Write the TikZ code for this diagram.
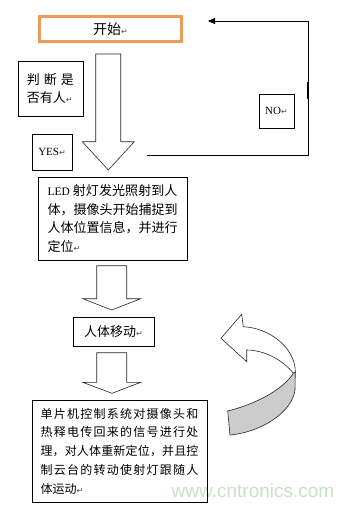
\documentclass[tikz,border=0pt]{standalone}
\usepackage{fontspec}
\setmainfont{Liberation Serif}
\newfontfamily\cjk{Noto Sans CJK SC}
\newfontfamily\dvfont{DejaVu Sans}
\newfontfamily\wmfont{Liberation Sans}
\usetikzlibrary{arrows.meta}
\definecolor{startorange}{RGB}{236,156,88}
\definecolor{wmgreen}{RGB}{200,226,196}
\definecolor{ribbongray}{RGB}{204,204,204}
\newcommand\retsym{{\dvfont\fontsize{8}{8}\selectfont\textcolor{black!70}{↵}}}
\def\spreadaux#1#2{#1\ifx\relax#2\else\hfil\expandafter\spreadaux\expandafter#2\fi}
\newcommand\spreadline[2]{\makebox[#1][s]{\spreadaux#2\relax}}
\tikzset{
  box/.style={draw=black, line width=0.7pt, inner sep=0pt},
  bigarrow/.style={draw=black!85, line width=0.6pt, fill=white, line join=miter},
  cjktext/.style={font={\cjk\fontsize{13}{18}\selectfont}},
}
\begin{document}
\begin{tikzpicture}[x=1pt,y=-1pt]
\useasboundingbox (0,0) rectangle (356,506);
\fill[white] (0,0) rectangle (356,506);

% watermark
\node[text=wmgreen, font={\wmfont\fontsize{19}{19}\selectfont}, inner sep=0pt] (wm) at (253,491) {www.cntronics.com};

% start box
\node[draw=startorange, line width=2.6pt, minimum width=142pt, minimum height=25pt, inner sep=0pt,
      font={\cjk\fontsize{14}{14}\selectfont}] (start) at (110.5,29) {开始\retsym};

% decision label
\node[box, minimum width=65pt, minimum height=55pt, align=left, cjktext] (judge) at (50.5,88.5)
  {\spreadline{47pt}{判断是}\\否有人\retsym};

% YES / NO labels
\node[box, minimum width=40pt, minimum height=36pt] (yes) at (52,152)
  {{\fontsize{11}{11}\selectfont YES}\retsym};
\node[box, minimum width=35pt, minimum height=34pt] (no) at (276.5,111)
  {{\fontsize{11}{11}\selectfont NO}\retsym};

% big hollow arrows
\draw[bigarrow] (95.7,54) -- (120.7,54) -- (120.7,141.7) -- (134.3,141.7) -- (108.3,170)
  -- (82.3,141.7) -- (95.7,141.7) -- cycle;
\draw[bigarrow] (96.7,265.7) -- (126.7,265.7) -- (126.7,298.7) -- (140.7,298.7) -- (111.7,310)
  -- (82.7,298.7) -- (96.7,298.7) -- cycle;
\draw[bigarrow] (96.7,352.7) -- (126.7,352.7) -- (126.7,382.3) -- (140.7,382.3) -- (112,393.3)
  -- (82.7,382.3) -- (96.7,382.3) -- cycle;

% LED box
\node[box, minimum width=149pt, minimum height=83pt, text width=130pt, align=left,
      font={\cjk\fontsize{13}{18.75}\selectfont}] (led) at (112.5,218.5)
  {\makebox[130pt][s]{{\rmfamily\fontsize{11.5}{11.5}\selectfont LED}\hspace{3pt}\spreadaux 射灯发光照射到人\relax}\\
   \spreadline{130pt}{体，摄像头开始捕捉到}\\
   \spreadline{130pt}{人体位置信息，并进行}\\
   定位\retsym};

% person moves
\node[box, minimum width=81pt, minimum height=29pt, cjktext] (move) at (113.5,331.5) {人体移动\retsym};

% MCU box
\node[box, minimum width=175pt, minimum height=102pt, text width=158pt, align=left,
      font={\cjk\fontsize{12}{18.75}\selectfont}] (mcu) at (119.5,451)
  {\spreadline{158pt}{单片机控制系统对摄像头和}\\
   \spreadline{158pt}{热释电传回来的信号进行处}\\
   \spreadline{158pt}{理，对人体重新定位，并且控}\\
   \spreadline{158pt}{制云台的转动使射灯跟随人}\\
   体运动\retsym};

% feedback (NO) line
\coordinate (fbstart) at (147,155);
\coordinate (fbcorner) at (308.3,21);
\coordinate (fbend) at (208,21);
\draw[line width=0.8pt, -{Triangle[length=7pt,width=6pt]}] (fbstart) -| (fbcorner) -- (fbend);
\draw[line width=2pt] (308.3,81.7) -- (308.3,99.3);

% curved loop arrow
\draw[draw=black!85, line width=0.6pt, fill=white, line join=miter]
  (221,338.3) -- (241.7,314.3) -- (243.3,326.7)
  .. controls (270,328) and (295.3,348) .. (295.3,372)
  -- (293.3,373.3)
  .. controls (284,361) and (265,350) .. (246.7,350)
  -- (246.7,361.7) -- cycle;
\draw[draw=black!85, line width=0.6pt, fill=ribbongray, line join=miter]
  (295.3,372) -- (293.3,373.3)
  .. controls (285,387) and (260,403) .. (227.7,411)
  -- (230,435)
  .. controls (262,432) and (292,412) .. (295,390)
  -- cycle;
\end{tikzpicture}
\end{document}
